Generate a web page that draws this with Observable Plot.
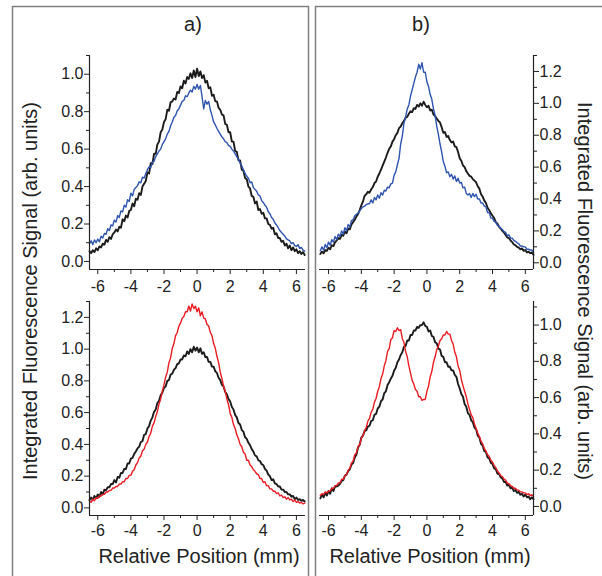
<!DOCTYPE html>
<html><head><meta charset="utf-8">
<script src="https://cdn.jsdelivr.net/npm/d3@7"></script>
<script src="https://cdn.jsdelivr.net/npm/@observablehq/plot@0.6"></script>
<style>
html,body{margin:0;padding:0;background:#fff;}
#chart{position:relative;width:602px;height:576px;overflow:hidden;font-family:"Liberation Sans",Arial,sans-serif;}
#chart svg{position:absolute;left:0;top:0;}
</style></head><body><div id="chart"></div>
<script>
// sampling of the position axis (mm)
const xStart = -6.5;
const xStep = 0.1;

// a) top panel
const aTopBlack = [
.055,.045,.060,.050,.070, .060,.080,.075,.095,.090, .115,.105,.130,.120,.145, .155,.170,.160,.185,.180,
.225,.215,.245,.235,.270, .275,.310,.295,.335,.330, .365,.355,.400,.415,.430, .475,.470,.525,.520,.575,
.575,.625,.640,.690,.705, .745,.760,.810,.805,.850, .855,.870,.865,.905,.900, .935,.925,.965,.950,.985,
.975,1.005,.980,1.020,.985, 1.030,.990,1.015,.980,.995, .955,.965,.925,.930,.885, .890,.855,.855,.820,.810,
.785,.780,.735,.730,.690, .690,.640,.640,.590,.585, .540,.540,.490,.485,.445, .440,.400,.390,.350,.345,
.310,.320,.275,.280,.255, .260,.230,.230,.200,.195, .175,.180,.145,.150,.125, .125,.105,.110,.085,.095,
.070,.085,.060,.075,.055, .065,.045,.055,.040,.050, .035];
const aTopBlue = [
.095,.110,.090,.115,.100, .120,.105,.135,.125,.150, .145,.175,.165,.195,.190, .220,.210,.245,.235,.270,
.265,.300,.290,.330,.320, .365,.350,.385,.395,.405, .425,.420,.450,.445,.470, .490,.505,.500,.530,.535,
.560,.575,.590,.600,.625, .640,.655,.680,.695,.725, .745,.770,.780,.805,.815, .835,.855,.860,.885,.880,
.900,.915,.905,.935,.920, .945,.920,.940,.880,.815, .860,.840,.855,.810,.780, .745,.730,.710,.695,.680,
.665,.655,.640,.635,.620, .615,.600,.590,.575,.560, .545,.525,.510,.490,.470, .455,.445,.420,.425,.395,
.385,.375,.355,.350,.325, .315,.300,.290,.265,.255, .235,.225,.205,.195,.180, .165,.155,.145,.135,.120,
.115,.110,.095,.100,.085, .080,.090,.070,.075,.060, .055];

// b) top panel
const bTopBlack = [
.055,.070,.060,.080,.075, .095,.085,.110,.105,.130, .140,.155,.150,.175,.170, .195,.185,.215,.210,.240,
.255,.270,.290,.305,.330, .360,.385,.420,.430,.445, .440,.460,.475,.500,.510, .540,.560,.585,.610,.635,
.660,.690,.715,.730,.760, .775,.800,.815,.845,.855, .875,.890,.910,.915,.935, .950,.945,.970,.965,.990,
.980,1.000,.985,1.010,.990, .975,.985,.955,.960,.930, .920,.905,.890,.880,.850, .815,.820,.790,.795,.770,
.755,.760,.730,.725,.695, .655,.640,.610,.600,.575, .560,.545,.540,.525,.515, .505,.480,.465,.430,.415,
.390,.375,.345,.330,.310, .295,.280,.255,.245,.225, .215,.200,.190,.175,.160, .155,.140,.130,.115,.110,
.100,.095,.085,.090,.075, .080,.065,.070,.060,.065, .050];
const bTopBlue = [
.075,.100,.080,.115,.095, .130,.110,.145,.130,.165, .145,.180,.165,.200,.180, .220,.200,.240,.225,.265,
.270,.295,.305,.310,.325, .340,.350,.355,.365,.370, .370,.395,.375,.410,.395, .425,.405,.440,.425,.455,
.450,.475,.470,.495,.500, .550,.570,.615,.655,.745, .795,.875,.915,.965,.990, 1.045,1.085,1.125,1.165,1.195,
1.245,1.215,1.255,1.195,1.195, 1.135,1.105,1.055,1.025,.965, .925,.855,.805,.745,.695, .635,.605,.565,.570,.540,
.555,.525,.545,.510,.530, .500,.505,.470,.475,.435, .425,.435,.410,.435,.415, .430,.400,.400,.375,.375,
.355,.350,.315,.315,.280, .280,.260,.255,.235,.230, .215,.210,.195,.190,.170, .175,.155,.155,.140,.135,
.125,.120,.105,.105,.100, .100,.085,.085,.080,.080, .065];

// a) bottom panel
const aBottomBlack = [
.050,.065,.050,.075,.060, .085,.070,.100,.085,.115, .110,.130,.130,.150,.150, .175,.160,.195,.190,.220,
.220,.245,.245,.280,.280, .310,.315,.340,.355,.375, .385,.415,.420,.460,.465, .500,.515,.550,.570,.605,
.620,.660,.675,.710,.725, .755,.765,.800,.805,.840, .845,.870,.880,.905,.910, .935,.935,.960,.955,.985,
.970,1.000,.980,1.015,.990, 1.010,.980,1.005,.970,.980, .950,.950,.920,.920,.890, .890,.860,.850,.820,.805,
.775,.765,.730,.715,.685, .670,.635,.620,.585,.570, .535,.525,.490,.480,.445, .435,.410,.395,.370,.355,
.330,.325,.300,.295,.275, .270,.245,.235,.210,.200, .175,.180,.155,.150,.135, .135,.115,.115,.100,.100,
.085,.085,.070,.075,.055, .065,.050,.055,.045,.050, .040];
const aBottomRed = [
.045,.035,.055,.045,.065, .060,.075,.075,.085,.085, .100,.100,.110,.110,.125, .125,.135,.135,.150,.150,
.165,.165,.185,.185,.205, .205,.230,.240,.270,.285, .315,.325,.360,.370,.400, .415,.450,.470,.515,.535,
.575,.605,.655,.685,.735, .775,.825,.855,.915,.945, 1.005,1.035,1.085,1.105,1.145, 1.165,1.195,1.205,1.235,1.235,
1.270,1.240,1.285,1.255,1.270, 1.235,1.260,1.210,1.235,1.195, 1.190,1.155,1.145,1.105,1.085, 1.035,1.005,.955,.915,.855,
.815,.765,.735,.685,.650, .595,.570,.525,.500,.460, .435,.400,.385,.350,.340, .300,.300,.270,.260,.240,
.230,.215,.210,.185,.185, .160,.165,.140,.140,.120, .120,.105,.105,.090,.095, .075,.080,.065,.070,.055,
.065,.050,.055,.040,.050, .035,.040,.030,.035,.025, .030];

// b) bottom panel
const bBottomBlack = [
.045,.065,.050,.075,.060, .085,.070,.100,.085,.110, .110,.115,.125,.140,.145, .170,.175,.195,.205,.230,
.240,.270,.285,.325,.340, .380,.390,.415,.420,.440, .445,.470,.475,.505,.510, .540,.550,.580,.590,.625,
.635,.670,.685,.705,.720, .750,.765,.795,.810,.835, .850,.880,.885,.915,.915, .945,.945,.970,.970,.990,
.985,1.000,1.000,1.015,.995, .990,.965,.970,.940,.935, .905,.900,.870,.865,.830, .825,.795,.795,.770,.770,
.750,.750,.725,.715,.675, .650,.620,.605,.565,.550, .515,.505,.475,.465,.435, .425,.390,.380,.345,.335,
.305,.300,.270,.265,.240, .235,.210,.205,.180,.180, .160,.155,.135,.135,.115, .120,.100,.105,.085,.090,
.075,.080,.065,.070,.055, .065,.050,.055,.040,.050, .040];
const bBottomRed = [
.060,.070,.065,.080,.075, .085,.085,.100,.100,.115, .115,.130,.130,.150,.150, .170,.175,.200,.210,.240,
.250,.285,.295,.330,.340, .375,.390,.420,.435,.470, .485,.520,.535,.575,.595, .635,.660,.705,.730,.775,
.805,.855,.870,.920,.930, .970,.965,.985,.970,.975, .925,.905,.855,.825,.775, .735,.695,.675,.645,.635,
.605,.605,.585,.590,.590, .635,.665,.715,.745,.795, .825,.865,.885,.915,.925, .945,.945,.965,.950,.950,
.915,.895,.850,.825,.775, .750,.700,.665,.635,.605, .565,.535,.505,.490,.455, .430,.405,.385,.360,.345,
.320,.305,.285,.275,.255, .245,.225,.215,.195,.185, .170,.165,.150,.145,.130, .125,.115,.110,.100,.100,
.090,.090,.080,.080,.075, .075,.065,.070,.060,.065, .055];

// tick values
const xMajorTicks = [-6, -4, -2, 0, 2, 4, 6];
const xMinorTicks = [-5, -3, -1, 1, 3, 5];
const yMajorTo10 = [0, 0.2, 0.4, 0.6, 0.8, 1.0];
const yMinorTo11 = [0.1, 0.3, 0.5, 0.7, 0.9, 1.1];
const yMajorTo12 = [0, 0.2, 0.4, 0.6, 0.8, 1.0, 1.2];
const yMinorTo13 = [0.1, 0.3, 0.5, 0.7, 0.9, 1.1, 1.3];

// texts
const panelTitles = ["a)", "b)"];
const xTitle = "Relative Position (mm)";
const yTitle = "Integrated Fluorescence Signal (arb. units)";

const BLACK = "#1c1c1c", BLUE = "#2f55b0", RED = "#ec1c24", AXIS = "#222";
const W = 602, H = 576;

function series(values) {
  return values.map((v, i) => ({x: +(xStart + i * xStep).toFixed(2), v}));
}

function panel(cfg) {
  const {x0, x1, y0, y1} = cfg.frame;
  const marks = [];
  for (const l of cfg.lines) {
    marks.push(Plot.line(series(l.values), {x: "x", y: "v", stroke: l.color, strokeWidth: l.width, strokeLinejoin: "round"}));
  }
  marks.push(Plot.ruleY([cfg.yDomain[0]], {stroke: AXIS, strokeWidth: 1.2}));
  marks.push(Plot.ruleX([cfg.yAnchor === "left" ? cfg.xDomain[0] : cfg.xDomain[1]], {stroke: AXIS, strokeWidth: 1.2}));
  marks.push(Plot.axisX(xMajorTicks, {tickSize: 5, tickPadding: cfg.xPad, tickFormat: d => String(d), label: null}));
  marks.push(Plot.axisX(xMinorTicks, {tickSize: 3, tickFormat: () => "", label: null}));
  marks.push(Plot.axisY(cfg.yMajor, {anchor: cfg.yAnchor, tickSize: 5, tickPadding: 1, tickFormat: d3.format(".1f"), label: null}));
  marks.push(Plot.axisY(cfg.yMinor, {anchor: cfg.yAnchor, tickSize: 3, tickFormat: () => "", label: null}));
  return Plot.plot({
    width: W, height: H,
    marginLeft: x0, marginRight: W - x1, marginTop: y0, marginBottom: H - y1,
    x: {domain: cfg.xDomain},
    y: {domain: cfg.yDomain},
    style: {fontFamily: '"Liberation Sans", Arial, sans-serif', fontSize: "16px", color: AXIS, background: "transparent", overflow: "visible"},
    marks
  });
}

const chart = document.getElementById("chart");

// frames (drawn underneath)
const deco = d3.create("svg").attr("width", W).attr("height", H)
  .style("font-family", '"Liberation Sans", Arial, sans-serif');
deco.append("path").attr("d", "M12.5,580V6.5H308.5V580").attr("fill", "none").attr("stroke", "#808080").attr("stroke-width", 1.5);
deco.append("path").attr("d", "M315.5,580V6.5H610").attr("fill", "none").attr("stroke", "#808080").attr("stroke-width", 1.5);
chart.appendChild(deco.node());

chart.appendChild(panel({
  frame: {x0: 89, x1: 305, y0: 55, y1: 269}, xDomain: [-6.5, 6.55], yDomain: [-0.043, 1.10],
  yAnchor: "left", yMajor: yMajorTo10, yMinor: yMinorTo11, xPad: 6,
  lines: [{values: aTopBlack, color: BLACK, width: 1.9}, {values: aTopBlue, color: BLUE, width: 1.4}]
}));
chart.appendChild(panel({
  frame: {x0: 319, x1: 533, y0: 55, y1: 269}, xDomain: [-6.55, 6.5], yDomain: [-0.042, 1.30],
  yAnchor: "right", yMajor: yMajorTo12, yMinor: yMinorTo13, xPad: 6,
  lines: [{values: bTopBlack, color: BLACK, width: 1.9}, {values: bTopBlue, color: BLUE, width: 1.4}]
}));
chart.appendChild(panel({
  frame: {x0: 89, x1: 305, y0: 301, y1: 515}, xDomain: [-6.5, 6.55], yDomain: [-0.048, 1.30],
  yAnchor: "left", yMajor: yMajorTo12, yMinor: yMinorTo13, xPad: 4,
  lines: [{values: aBottomBlack, color: BLACK, width: 1.9}, {values: aBottomRed, color: RED, width: 1.4}]
}));
chart.appendChild(panel({
  frame: {x0: 319, x1: 533, y0: 301, y1: 515}, xDomain: [-6.55, 6.5], yDomain: [-0.05, 1.13],
  yAnchor: "right", yMajor: yMajorTo10, yMinor: yMinorTo11, xPad: 4,
  lines: [{values: bBottomBlack, color: BLACK, width: 1.9}, {values: bBottomRed, color: RED, width: 1.4}]
}));

// text overlay
const txt = d3.create("svg").attr("width", W).attr("height", H)
  .style("font-family", '"Liberation Sans", Arial, sans-serif').style("font-size", "20px").attr("fill", AXIS);
txt.append("text").attr("x", 193).attr("y", 31).attr("text-anchor", "middle").text(panelTitles[0]);
txt.append("text").attr("x", 421).attr("y", 31).attr("text-anchor", "middle").text(panelTitles[1]);
txt.append("text").attr("x", 199).attr("y", 563).attr("text-anchor", "middle").text(xTitle);
txt.append("text").attr("x", 430).attr("y", 563).attr("text-anchor", "middle").text(xTitle);
txt.append("text").attr("transform", "translate(37,291) rotate(-90)").attr("text-anchor", "middle").text(yTitle);
txt.append("text").attr("transform", "translate(578,291) rotate(90)").attr("text-anchor", "middle").text(yTitle);
chart.appendChild(txt.node());
</script></body></html>
